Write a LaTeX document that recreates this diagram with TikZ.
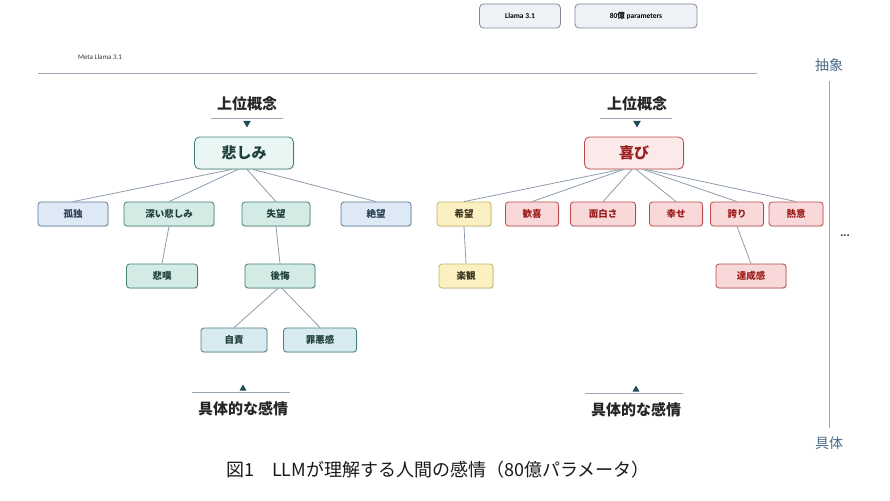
\documentclass[tikz,border=0pt]{standalone}
\usepackage{fontspec}
\setmainfont{Noto Sans CJK JP}
\newfontfamily\latinfont{Carlito}
\usetikzlibrary{positioning,shapes.geometric,shadows}

\definecolor{edgecol}{HTML}{8C9CAC}
\definecolor{rulecol}{HTML}{9AA6B2}
\definecolor{tricol}{HTML}{1E4A5A}
\definecolor{axiscol}{HTML}{4A6A8A}
\definecolor{sadfill}{HTML}{EAF6F3}
\definecolor{tealfill}{HTML}{D4EBE5}
\definecolor{tealdraw}{HTML}{3F7F75}
\definecolor{tealtext}{HTML}{1F3F3A}
\definecolor{bluefill}{HTML}{DDE9F5}
\definecolor{bluedraw}{HTML}{5B7A96}
\definecolor{bluetext}{HTML}{2B3F55}
\definecolor{cyanfill}{HTML}{D6EAF0}
\definecolor{cyandraw}{HTML}{4A7F8A}
\definecolor{joyfill}{HTML}{FCEAEA}
\definecolor{redfill}{HTML}{F8D8D8}
\definecolor{reddraw}{HTML}{B84A4A}
\definecolor{redtext}{HTML}{9B1C1C}
\definecolor{yelfill}{HTML}{FAF0C2}
\definecolor{yeldraw}{HTML}{C9B466}
\definecolor{yeltext}{HTML}{3A3520}
\definecolor{tagfill}{HTML}{EEF2F6}
\definecolor{tagdraw}{HTML}{7F8894}

\tikzset{
  box/.style={rectangle,rounded corners=3pt,draw,line width=0.8pt,inner sep=2pt,
    minimum height=24pt,font=\bfseries\fontsize{9.5}{9.5}\selectfont,
    drop shadow={opacity=0.18,shadow xshift=1pt,shadow yshift=-1pt}},
  rootbox/.style={box,rounded corners=5pt,minimum width=99pt,minimum height=32pt,
    font=\bfseries\fontsize{15}{15}\selectfont},
  teal/.style={fill=tealfill,draw=tealdraw,text=tealtext},
  blue/.style={fill=bluefill,draw=bluedraw,text=bluetext},
  cyan/.style={fill=cyanfill,draw=cyandraw,text=tealtext},
  red/.style={fill=redfill,draw=reddraw,text=redtext},
  yel/.style={fill=yelfill,draw=yeldraw,text=yeltext},
  tag/.style={rectangle,rounded corners=4pt,draw=tagdraw,fill=tagfill,line width=0.8pt,
    minimum height=24pt,font=\latinfont\bfseries\fontsize{7.5}{7.5}\selectfont},
  edge/.style={draw=edgecol,line width=0.8pt},
  level/.style={font=\bfseries\fontsize{15}{15}\selectfont,text=black!85},
  tridown/.style={regular polygon,regular polygon sides=3,shape border rotate=180,
    fill=tricol,inner sep=0pt,minimum size=9pt},
  triup/.style={regular polygon,regular polygon sides=3,fill=tricol,inner sep=0pt,minimum size=8pt},
  axis/.style={font=\fontsize{14}{14}\selectfont,text=axiscol}
}

\begin{document}
\begin{tikzpicture}[x=1pt,y=-1pt]
\useasboundingbox (0,0) rectangle (890,500);

% header
\node[tag,minimum width=81pt] (llama) at (520,16) {Llama 3.1};
\node[tag,minimum width=122pt] (param) at (636,16) {80{\rmfamily 億} parameters};
\node[font=\latinfont\fontsize{7}{7}\selectfont,text=black!80] (meta) at (100,57) {Meta Llama 3.1};
\draw[rulecol,line width=0.8pt] (38,73) -- (757,73);

% abstraction axis
\node[axis] (abs) at (829,65) {抽象};
\node[axis] (con) at (829,443) {具体};
\draw[rulecol,line width=0.9pt] ([yshift=-6pt]abs.south) -- ([yshift=5pt]con.north);
\node[font=\bfseries\fontsize{9}{9}\selectfont,text=black!80] (more) at (845,236) {...};

% sadness tree
\node[level] (ltop) at (247,104) {上位概念};
\draw[rulecol,line width=0.8pt] (211,118) -- (283,118);
\node[tridown] (ltri) at (247,123) {};
\node[rootbox,fill=sadfill,draw=tealdraw,text=tealtext] (sad) at (244,153) {悲しみ};

\foreach \i/\x/\w/\st/\element in {1/73/70/blue/孤独,2/169/90/teal/深い悲しみ,
    3/276/68/teal/失望,4/376/70/blue/絶望}
  \node[box,\st,minimum width=\w pt] (s\i) at (\x,214) {\element};
\node[box,teal,minimum width=71pt] (s21) at (162,276) {悲嘆};
\node[box,teal,minimum width=70pt] (s31) at (280,276) {後悔};
\node[box,cyan,minimum width=66pt] (s311) at (234,340) {自責};
\node[box,cyan,minimum width=73pt] (s312) at (320,340) {罪悪感};

\draw[edge] ([xshift=-12pt]sad.south) -- (s1.north);
\draw[edge] ([xshift=-6pt]sad.south) -- (s2.north);
\draw[edge] ([xshift=3pt]sad.south) -- (s3.north);
\draw[edge] ([xshift=9pt]sad.south) -- (s4.north);
\draw[edge] (s2.south) -- (s21.north);
\draw[edge] (s3.south) -- (s31.north);
\draw[edge] ([xshift=-2pt]s31.south) -- (s311.north);
\draw[edge] ([xshift=2pt]s31.south) -- (s312.north);

\draw[rulecol,line width=0.8pt] (192,392) -- (290,392);
\node[triup] (lbtri) at (243,388.5) {};
\node[level] (lbot) at (243,409) {具体的な感情};

% joy tree
\node[level] (rtop) at (637,104) {上位概念};
\draw[rulecol,line width=0.8pt] (600,118) -- (672,118);
\node[tridown] (rtri) at (637,123) {};
\node[rootbox,fill=joyfill,draw=reddraw,text=redtext] (joy) at (634,153) {喜び};

\foreach \i/\x/\w/\st/\element in {1/464/54/yel/希望,2/532/53/red/歓喜,
    3/603/65/red/面白さ,4/676/53/red/幸せ,5/737/53/red/誇り,6/796/54/red/熱意}
  \node[box,\st,minimum width=\w pt] (j\i) at (\x,214) {\element};
\node[box,yel,minimum width=54pt] (j11) at (466,276) {楽観};
\node[box,red,minimum width=70pt] (j51) at (751,276) {達成感};

\draw[edge] ([xshift=-13pt]joy.south) -- (j1.north);
\draw[edge] ([xshift=-10pt]joy.south) -- (j2.north);
\draw[edge] ([xshift=-2pt]joy.south) -- (j3.north);
\draw[edge] ([xshift=2pt]joy.south) -- (j4.north);
\draw[edge] ([xshift=9pt]joy.south) -- (j5.north);
\draw[edge] ([xshift=12pt]joy.south) -- (j6.north);
\draw[edge] (j1.south) -- (j11.north);
\draw[edge] (j5.south) -- (j51.north);

\draw[rulecol,line width=0.8pt] (585,393) -- (683,393);
\node[triup] (rbtri) at (636,389.5) {};
\node[level] (rbot) at (636,410) {具体的な感情};

% caption
\node[font=\fontsize{18}{18}\selectfont,text=black!90] (caption) at (438,470)
  {図1　LLMが理解する人間の感情（80億パラメータ）};

\end{tikzpicture}
\end{document}
